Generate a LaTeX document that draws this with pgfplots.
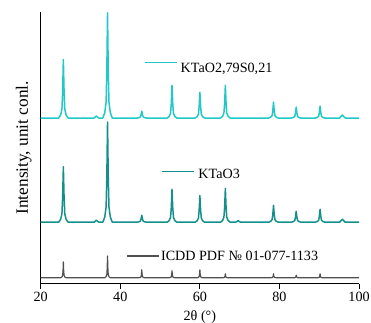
\documentclass[border=0pt]{standalone}
\usepackage{fontspec}
\setmainfont{Liberation Serif}
\usepackage{pgfplots}
\pgfplotsset{compat=1.18}
\definecolor{cy}{HTML}{20C8C8}
\definecolor{tl}{HTML}{138F8C}
\definecolor{gr}{HTML}{505050}
\begin{document}
\begin{tikzpicture}
\begin{axis}[
 scale only axis, width=321bp, height=274bp,
 xmin=20, xmax=100, ymin=0, ymax=274,
 axis x line*=bottom, axis y line*=left,
 xtick={20,40,60,80,100}, ytick=\empty,
 xtick align=outside, major tick length=5bp,
 tick style={black, line width=0.8bp},
 axis line style={black, line width=0.8bp},
 font=\fontsize{14.3}{17}\selectfont,
 /pgf/number format/assume math mode=true,
 xlabel={2θ (°)}, ylabel={Intensity, unit conl.},
 ylabel style={font=\fontsize{17.5}{20}\selectfont, at={(axis description cs:-0.053,0.5)}, anchor=center},
 xlabel style={at={(axis description cs:0.5,-0.135)}, anchor=base},
 clip=false,
 line join=round,
]
% KTaO2,79S0,21
\addplot[cy, line width=1.5bp] coordinates {
(20,167)
(24.5,167)(25.0,170.0)(25.34,175.9)(25.52,193.6)(25.7,226)(25.88,193.6)(26.06,175.9)(26.4,170.0)(26.9,167)
(33.4,167)(34.0,169)(34.6,167)
(35.6,167)(36.1,172.3)(36.44,182.9)(36.62,214.7)(36.8,273)(36.98,214.7)(37.16,182.9)(37.5,172.3)(38.0,167)
(44.2,167)(44.7,167.4)(45.04,168.1)(45.22,170.2)(45.4,174)(45.58,170.2)(45.76,168.1)(46.1,167.4)(46.6,167)
(51.8,167)(52.3,168.7)(52.64,172.0)(52.82,181.9)(53.0,200)(53.18,181.9)(53.36,172.0)(53.7,168.7)(54.2,167)
(58.8,167)(59.3,168.3)(59.64,170.9)(59.82,178.7)(60.0,193)(60.18,178.7)(60.36,170.9)(60.7,168.3)(61.2,167)
(65.2,167)(65.7,168.7)(66.04,172.0)(66.22,181.9)(66.4,200)(66.58,181.9)(66.76,172.0)(67.1,168.7)(67.6,167)
(77.3,167)(77.8,167.8)(78.14,169.4)(78.32,174.2)(78.5,183)(78.68,174.2)(78.86,169.4)(79.2,167.8)(79.7,167)
(83.0,167)(83.5,167.6)(83.84,168.7)(84.02,172.0)(84.2,178)(84.38,172.0)(84.56,168.7)(84.9,167.6)(85.4,167)
(89.0,167)(89.5,167.6)(89.84,168.8)(90.02,172.4)(90.2,179)(90.38,172.4)(90.56,168.8)(90.9,167.6)(91.4,167)
(95.1,167)(95.8,170)(96.5,167)
(100,167)
};
% KTaO3
\addplot[tl, line width=1.5bp] coordinates {
(20,62)
(24.5,62)(25.0,64.8)(25.34,70.4)(25.52,87.2)(25.7,118)(25.88,87.2)(26.06,70.4)(26.4,64.8)(26.9,62)
(33.4,62)(34.0,64)(34.6,62)
(35.6,62)(36.1,67.1)(36.44,77.2)(36.62,107.5)(36.8,163)(36.98,107.5)(37.16,77.2)(37.5,67.1)(38.0,62)
(44.2,62)(44.7,62.4)(45.04,63.1)(45.22,65.2)(45.4,69)(45.58,65.2)(45.76,63.1)(46.1,62.4)(46.6,62)
(51.8,62)(52.3,63.7)(52.64,67.0)(52.82,76.9)(53.0,95)(53.18,76.9)(53.36,67.0)(53.7,63.7)(54.2,62)
(58.8,62)(59.3,63.4)(59.64,66.1)(59.82,74.2)(60.0,89)(60.18,74.2)(60.36,66.1)(60.7,63.4)(61.2,62)
(65.2,62)(65.7,63.7)(66.04,67.1)(66.22,77.3)(66.4,96)(66.58,77.3)(66.76,67.1)(67.1,63.7)(67.6,62)
(69.0,62)(69.6,63.5)(70.2,62)
(77.3,62)(77.8,62.9)(78.14,64.6)(78.32,69.7)(78.5,79)(78.68,69.7)(78.86,64.6)(79.2,62.9)(79.7,62)
(83.0,62)(83.5,62.6)(83.84,63.7)(84.02,67.0)(84.2,73)(84.38,67.0)(84.56,63.7)(84.9,62.6)(85.4,62)
(89.0,62)(89.5,62.7)(89.84,64.0)(90.02,67.9)(90.2,75)(90.38,67.9)(90.56,64.0)(90.9,62.7)(91.4,62)
(95.1,62)(95.8,65)(96.5,62)
(100,62)
};
% ICDD
\addplot[gr, line width=1.2bp] coordinates {
(20,6)
(25.0,6)(25.35,6.8)(25.52,8.4)(25.62,13.2)(25.7,22)(25.78,13.2)(25.88,8.4)(26.05,6.8)(26.4,6)
(36.1,6)(36.45,7.1)(36.62,9.3)(36.72,15.9)(36.8,28)(36.88,15.9)(36.98,9.3)(37.15,7.1)(37.5,6)
(44.7,6)(45.05,6.4)(45.22,7.2)(45.32,9.6)(45.4,14)(45.48,9.6)(45.58,7.2)(45.75,6.4)(46.1,6)
(52.3,6)(52.65,6.4)(52.82,7.1)(52.92,9.2)(53.0,13)(53.08,9.2)(53.18,7.1)(53.35,6.4)(53.7,6)
(59.3,6)(59.65,6.4)(59.82,7.2)(59.92,9.6)(60.0,14)(60.08,9.6)(60.18,7.2)(60.35,6.4)(60.7,6)
(65.7,6)(66.05,6.2)(66.22,6.6)(66.32,7.8)(66.4,10)(66.48,7.8)(66.58,6.6)(66.75,6.2)(67.1,6)
(77.8,6)(78.15,6.2)(78.32,6.6)(78.42,7.8)(78.5,10)(78.58,7.8)(78.68,6.6)(78.85,6.2)(79.2,6)
(83.5,6)(83.85,6.1)(84.02,6.4)(84.12,7.1)(84.2,8.5)(84.28,7.1)(84.38,6.4)(84.55,6.1)(84.9,6)
(89.5,6)(89.85,6.2)(90.02,6.6)(90.12,7.8)(90.2,10)(90.28,7.8)(90.38,6.6)(90.55,6.2)(90.9,6)
(100,6)
};
% legend keys
\draw[cy, line width=1.5bp] (axis cs:46.17,223) -- (axis cs:54.14,223);
\node[anchor=base west, inner sep=0pt] at (axis cs:55.14,213) {KTaO2,79S0,21};
\draw[tl, line width=1.5bp] (axis cs:50.4,113) -- (axis cs:58.4,113);
\node[anchor=base west, inner sep=0pt] at (axis cs:59.6,106) {KTaO3};
\draw[gr, line width=1.2bp] (axis cs:41.7,28) -- (axis cs:49.7,28);
\node[anchor=base west, inner sep=0pt] at (axis cs:50.2,23) {ICDD PDF № 01-077-1133};
\end{axis}
\pgfresetboundingbox
\path[use as bounding box] (-41bp,-39bp) rectangle (333bp,286bp);
\end{tikzpicture}
\end{document}
